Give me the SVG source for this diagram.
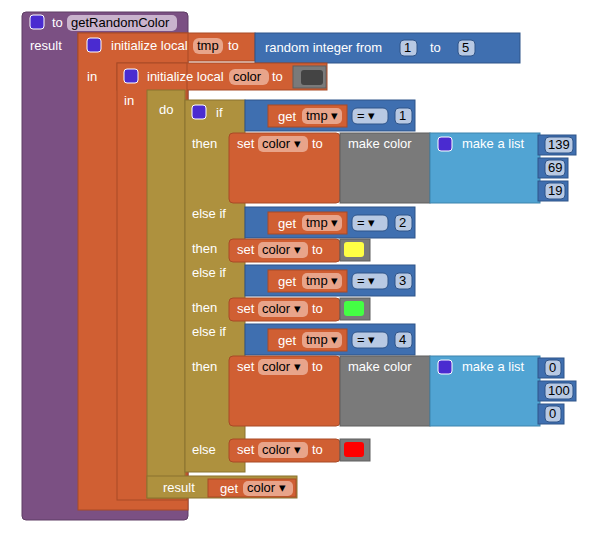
<svg xmlns="http://www.w3.org/2000/svg" width="600" height="533" viewBox="0 0 600 533">
<style>
text{font-family:"Liberation Sans",Arial,sans-serif;font-size:13px;fill:#fff}
.d{fill:#000}
.pu{fill:#7b5083;stroke:#5e3d64}
.or{fill:#d05f33;stroke:#a84a26}
.go{fill:#ae913e;stroke:#8a732f}
.bl{fill:#3f6fb0;stroke:#2f5489}
.lb{fill:#51a4d3;stroke:#3d84ad}
.gr{fill:#7a7a7a;stroke:#5e5e5e}
.pill{fill:#e8a48a}
.bpill{fill:#b8c9e3;stroke:#2f5489}
.gear{fill:#4a2bd0;stroke:#fff;stroke-width:1}
</style>
<rect width="600" height="533" fill="#fff"/>
<!-- procedure -->
<rect class="pu" x="22" y="12" width="166" height="508" rx="4"/>
<rect class="gear" x="30" y="15" width="14" height="14" rx="3"/>
<text x="52" y="27">to</text>
<rect x="67" y="15" width="110" height="16" rx="5" fill="#c9b3cd"/>
<text class="d" x="71" y="27">getRandomColor</text>
<text x="30" y="50">result</text>
<!-- init local tmp -->
<rect class="or" x="78" y="33" width="177" height="28"/>
<rect class="or" x="78" y="33" width="110" height="477"/>
<rect class="gear" x="87" y="38" width="14" height="14" rx="3"/>
<text x="111" y="50">initialize local</text>
<rect class="pill" x="193" y="38" width="30" height="16" rx="6"/>
<text class="d" x="197" y="50">tmp</text>
<text x="228" y="50">to</text>
<rect class="bl" x="255" y="33" width="265" height="30"/>
<text x="265" y="52">random integer from</text>
<rect class="bpill" x="400" y="40" width="17" height="16" rx="4"/><text class="d" x="404" y="52">1</text>
<text x="430" y="52">to</text>
<rect class="bpill" x="458" y="40" width="17" height="16" rx="4"/><text class="d" x="462" y="52">5</text>
<text x="87" y="81">in</text>
<!-- init local color -->
<rect class="or" x="117" y="63" width="210" height="27"/>
<rect class="or" x="117" y="63" width="70" height="437"/>
<rect class="gear" x="124" y="69" width="14" height="14" rx="3"/>
<text x="147" y="81">initialize local</text>
<rect class="pill" x="229" y="69" width="40" height="16" rx="6"/>
<text class="d" x="233" y="81">color</text>
<text x="272" y="81">to</text>
<rect class="gr" x="293" y="66" width="33" height="22"/>
<rect x="301" y="70" width="22" height="15" rx="3" fill="#444"/>
<text x="124" y="105">in</text>
<!-- do result -->
<rect class="go" x="147" y="90" width="38" height="408"/>
<rect class="go" x="147" y="476" width="150" height="22"/>
<text x="159" y="114">do</text>
<text x="163" y="492">result</text>
<rect class="or" x="208" y="479" width="88" height="18"/>
<text x="220" y="493">get</text>
<rect class="pill" x="243" y="481" width="50" height="15" rx="5"/>
<text class="d" x="247" y="492">color ▾</text>
<!-- if block -->
<rect class="go" x="185" y="100" width="60" height="372"/>
<rect class="gear" x="192" y="105" width="14" height="14" rx="3"/>
<text x="216" y="117">if</text>
<text x="192" y="148">then</text>
<text x="192" y="218">else if</text>
<text x="192" y="253">then</text>
<text x="192" y="277">else if</text>
<text x="192" y="312">then</text>
<text x="192" y="336">else if</text>
<text x="192" y="371">then</text>
<text x="192" y="454">else</text>
<!-- comparisons -->
<g>
<rect class="bl" x="245" y="100" width="170" height="31"/>
<rect class="or" x="268" y="105" width="79" height="22"/><text x="278" y="121">get</text>
<rect class="pill" x="302" y="108" width="40" height="16" rx="5"/><text class="d" x="306" y="120">tmp ▾</text>
<rect class="bpill" x="352" y="108" width="36" height="16" rx="5"/><text class="d" x="357" y="120">= ▾</text>
<rect class="bpill" x="395" y="108" width="17" height="16" rx="4"/><text class="d" x="399" y="120">1</text>
</g>
<g>
<rect class="bl" x="245" y="207" width="170" height="31"/>
<rect class="or" x="268" y="212" width="79" height="22"/><text x="278" y="228">get</text>
<rect class="pill" x="302" y="215" width="40" height="16" rx="5"/><text class="d" x="306" y="227">tmp ▾</text>
<rect class="bpill" x="352" y="215" width="36" height="16" rx="5"/><text class="d" x="357" y="227">= ▾</text>
<rect class="bpill" x="395" y="215" width="17" height="16" rx="4"/><text class="d" x="399" y="227">2</text>
</g>
<g>
<rect class="bl" x="245" y="265" width="170" height="31"/>
<rect class="or" x="268" y="270" width="79" height="22"/><text x="278" y="286">get</text>
<rect class="pill" x="302" y="273" width="40" height="16" rx="5"/><text class="d" x="306" y="285">tmp ▾</text>
<rect class="bpill" x="352" y="273" width="36" height="16" rx="5"/><text class="d" x="357" y="285">= ▾</text>
<rect class="bpill" x="395" y="273" width="17" height="16" rx="4"/><text class="d" x="399" y="285">3</text>
</g>
<g>
<rect class="bl" x="245" y="324" width="170" height="31"/>
<rect class="or" x="268" y="329" width="79" height="22"/><text x="278" y="345">get</text>
<rect class="pill" x="302" y="332" width="40" height="16" rx="5"/><text class="d" x="306" y="344">tmp ▾</text>
<rect class="bpill" x="352" y="332" width="36" height="16" rx="5"/><text class="d" x="357" y="344">= ▾</text>
<rect class="bpill" x="395" y="332" width="17" height="16" rx="4"/><text class="d" x="399" y="344">4</text>
</g>
<!-- set 1 -->
<rect class="or" x="229" y="133" width="111" height="70" rx="4"/>
<text x="237" y="148">set</text>
<rect class="pill" x="258" y="136" width="50" height="16" rx="5"/><text class="d" x="262" y="148">color ▾</text>
<text x="312" y="148">to</text>
<rect class="gr" x="340" y="133" width="90" height="70"/>
<text x="348" y="148">make color</text>
<rect class="lb" x="430" y="133" width="110" height="70"/>
<rect class="gear" x="438" y="137" width="14" height="14" rx="3"/>
<text x="462" y="148">make a list</text>
<rect class="bl" x="538" y="135" width="38" height="20"/><rect class="bpill" x="545" y="137" width="28" height="16" rx="4"/><text class="d" x="548" y="149">139</text>
<rect class="bl" x="538" y="158" width="30" height="20"/><rect class="bpill" x="545" y="160" width="20" height="16" rx="4"/><text class="d" x="548" y="172">69</text>
<rect class="bl" x="538" y="181" width="30" height="20"/><rect class="bpill" x="545" y="183" width="20" height="16" rx="4"/><text class="d" x="548" y="195">19</text>
<!-- set 2 -->
<rect class="or" x="229" y="239" width="111" height="23" rx="4"/>
<text x="237" y="254">set</text>
<rect class="pill" x="258" y="242" width="50" height="16" rx="5"/><text class="d" x="262" y="254">color ▾</text>
<text x="312" y="254">to</text>
<rect class="gr" x="340" y="239" width="30" height="22"/><rect x="344" y="242" width="20" height="15" rx="3" fill="#ffff44"/>
<!-- set 3 -->
<rect class="or" x="229" y="298" width="111" height="23" rx="4"/>
<text x="237" y="313">set</text>
<rect class="pill" x="258" y="301" width="50" height="16" rx="5"/><text class="d" x="262" y="313">color ▾</text>
<text x="312" y="313">to</text>
<rect class="gr" x="340" y="298" width="30" height="22"/><rect x="344" y="301" width="20" height="15" rx="3" fill="#44ff44"/>
<!-- set 4 -->
<rect class="or" x="229" y="356" width="111" height="70" rx="4"/>
<text x="237" y="371">set</text>
<rect class="pill" x="258" y="359" width="50" height="16" rx="5"/><text class="d" x="262" y="371">color ▾</text>
<text x="312" y="371">to</text>
<rect class="gr" x="340" y="356" width="90" height="70"/>
<text x="348" y="371">make color</text>
<rect class="lb" x="430" y="356" width="110" height="70"/>
<rect class="gear" x="438" y="360" width="14" height="14" rx="3"/>
<text x="462" y="371">make a list</text>
<rect class="bl" x="538" y="358" width="26" height="20"/><rect class="bpill" x="545" y="360" width="16" height="16" rx="4"/><text class="d" x="549" y="372">0</text>
<rect class="bl" x="538" y="381" width="38" height="20"/><rect class="bpill" x="545" y="383" width="28" height="16" rx="4"/><text class="d" x="548" y="395">100</text>
<rect class="bl" x="538" y="404" width="26" height="20"/><rect class="bpill" x="545" y="406" width="16" height="16" rx="4"/><text class="d" x="549" y="418">0</text>
<!-- set 5 -->
<rect class="or" x="229" y="439" width="111" height="23" rx="4"/>
<text x="237" y="454">set</text>
<rect class="pill" x="258" y="442" width="50" height="16" rx="5"/><text class="d" x="262" y="454">color ▾</text>
<text x="312" y="454">to</text>
<rect class="gr" x="340" y="439" width="30" height="22"/><rect x="344" y="442" width="20" height="15" rx="3" fill="#ff0000"/>
</svg>
